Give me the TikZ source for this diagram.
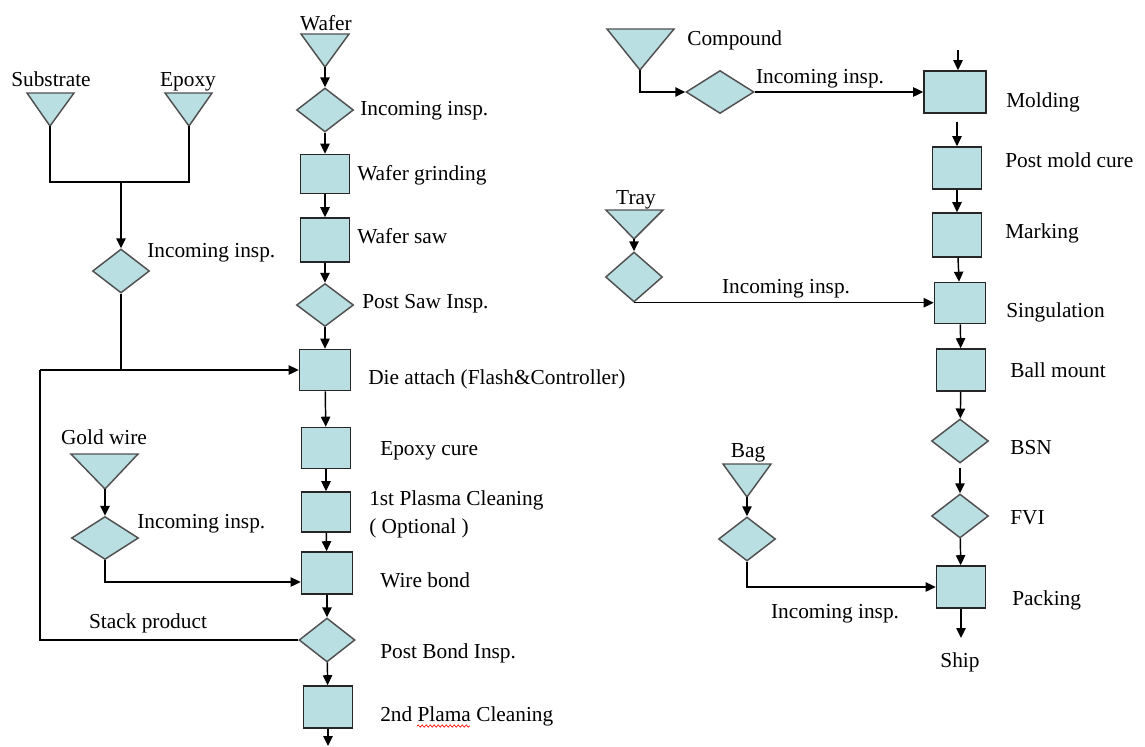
\documentclass[tikz,border=0pt]{standalone}
\usepackage{fontspec}
\setmainfont{Liberation Serif}
\usetikzlibrary{shapes.geometric,arrows.meta,calc,decorations.pathmorphing}
\definecolor{stepfill}{RGB}{185,223,226}
\definecolor{edgegray}{RGB}{80,80,80}
\begin{document}
\begin{tikzpicture}[x=0.75pt,y=-0.75pt,
  every node/.style={font=\fontsize{16}{19}\selectfont},
  stepbox/.style 2 args={rectangle, draw=black!85, fill=stepfill, line width=1.2pt,
    inner sep=0pt, minimum width=#1*0.75pt, minimum height=#2*0.75pt},
  checkbox/.style 2 args={diamond, draw=edgegray, fill=stepfill, line width=1.1pt,
    inner sep=0pt, minimum width=#1*0.75pt, minimum height=#2*0.75pt},
  tri/.style={draw=edgegray, fill=stepfill, line width=1.1pt},
  lbl/.style={inner sep=0pt, anchor=base west},
  clbl/.style={inner sep=0pt, anchor=base},
  link/.style={line width=1.1pt},
  flow/.style={line width=1.1pt, -{Triangle[length=7.5pt,width=7pt]}}]

\fill[white] (0,0) rectangle (1145,746);
\useasboundingbox (0,0) rectangle (1145,746);

% ---------- wafer line ----------
\node[clbl] (tWafer) at (326,30) {Wafer};
\draw[tri] (301,34) -- (349,34) -- (325,67) -- cycle;
\coordinate (aWafer) at (325,67);
\node[checkbox={57}{44}] (dWafer) at (325,110) {};
\node[lbl] (lWafer) at (360,115) {Incoming insp.};
\node[stepbox={49}{39}] (bGrind) at (325,174) {};
\node[lbl] (lGrind) at (357,180) {Wafer grinding};
\node[stepbox={49}{44}] (bSaw) at (325,240) {};
\node[lbl] (lSaw) at (357,243) {Wafer saw};
\node[checkbox={57}{43}] (dSaw) at (325,305) {};
\node[lbl] (lPsaw) at (362,308) {Post Saw Insp.};
\node[stepbox={51}{41}] (bDie) at (325,370) {};
\node[lbl] (lDie) at (368,384) {Die attach (Flash\&Controller)};
\node[stepbox={49}{41}] (bCure) at (326,448) {};
\node[lbl] (lCure) at (380,455) {Epoxy cure};
\node[stepbox={49}{40}] (bPl1) at (326,512) {};
\node[lbl] (lPl1a) at (369,505) {1st Plasma Cleaning};
\node[lbl] (lPl1b) at (369,533) {( Optional )};
\node[stepbox={51}{42}] (bWire) at (327,573) {};
\node[lbl] (lWire) at (380,587) {Wire bond};
\node[checkbox={56}{44}] (dBond) at (327,640) {};
\node[lbl] (lBond) at (380,658) {Post Bond Insp.};
\node[stepbox={49}{42}] (bPl2) at (328,707) {};
\node[lbl] (lPl2) at (380,721) {2nd Plama Cleaning};
\draw[red, line width=0.5pt, decorate,
  decoration={snake, segment length=3pt, amplitude=0.8pt}] (417,726) -- (470,726);
\coordinate (outLeft) at (328,746);

\draw[flow] (aWafer) -- (dWafer);
\draw[flow] (dWafer) -- (bGrind);
\draw[flow] (bGrind) -- (bSaw);
\draw[flow] (bSaw) -- (dSaw);
\draw[flow] (dSaw) -- (bDie);
\draw[flow] (bDie) -- (bCure);
\draw[flow] (bCure) -- (bPl1);
\draw[flow] (bPl1) -- (bWire);
\draw[flow] (bWire) -- (dBond);
\draw[flow] (dBond) -- (bPl2);
\draw[flow] (bPl2) -- (outLeft);

% ---------- substrate and epoxy ----------
\node[clbl] (tSub) at (51,86) {Substrate};
\draw[tri] (27,93) -- (74,93) -- (50,126) -- cycle;
\coordinate (aSub) at (50,126);
\node[clbl] (tEpo) at (188,86) {Epoxy};
\draw[tri] (165,93) -- (212,93) -- (189,126) -- cycle;
\coordinate (aEpo) at (189,126);
\coordinate (jSub) at (50,182);
\coordinate (jEpo) at (189,182);
\coordinate (jMid) at (121,182);
\node[checkbox={57}{44}] (dSub) at (121,271) {};
\node[lbl] (lSub) at (147,257) {Incoming insp.};
\draw[link] (aSub) -- (jSub) -- (jEpo) -- (aEpo);
\draw[flow] (jMid) -- (dSub);
\draw[link] (dSub.south) -- (dSub.south |- bDie.west);

% stacked product loops back to die attach
\coordinate (loopTop) at (40,370);
\node[clbl] (lStack) at (148,628) {Stack product};
\draw[link] (dBond.west) -| (loopTop);
\draw[flow] (loopTop) -- (bDie.west);

% ---------- gold wire ----------
\node[clbl] (tGold) at (104,444) {Gold wire};
\draw[tri] (71,454) -- (138,454) -- (105,489) -- cycle;
\coordinate (aGold) at (105,489);
\node[checkbox={67}{43}] (dGold) at (105,538) {};
\node[lbl] (lGold) at (137,528) {Incoming insp.};
\draw[flow] (aGold) -- (dGold);
\draw[flow] (dGold.south) |- ($(bWire.west)+(0,9)$);

% ---------- back end line ----------
\coordinate (inTop) at (958,50);
\node[stepbox={62}{42}] (mMold) at (955,92) {};
\node[lbl] (lMold) at (1006,107) {Molding};
\node[stepbox={49}{42}] (mCure) at (957,168) {};
\node[lbl] (lCureB) at (1005,167) {Post mold cure};
\node[stepbox={49}{44}] (mMark) at (957,235) {};
\node[lbl] (lMark) at (1005,238) {Marking};
\node[stepbox={51}{41}] (mSing) at (960,303) {};
\node[lbl] (lSing) at (1006,317) {Singulation};
\node[stepbox={49}{42}] (mBall) at (961,370) {};
\node[lbl] (lBall) at (1010,377) {Ball mount};
\node[checkbox={57}{44}] (mBsn) at (960,441) {};
\node[lbl] (lBsn) at (1010,454) {BSN};
\node[checkbox={57}{44}] (mFvi) at (960,516) {};
\node[lbl] (lFvi) at (1010,524) {FVI};
\node[stepbox={49}{42}] (mPack) at (961,587) {};
\node[lbl] (lPack) at (1012,605) {Packing};
\coordinate (shipEnd) at (961,638);
\node[clbl] (lShip) at (960,667) {Ship};

\draw[flow] (inTop) -- (inTop |- mMold.north);
\draw[flow, shorten <=6pt] (mMold.south -| mCure.north) -- (mCure.north);
\draw[flow] (mCure) -- (mMark);
\draw[flow] (mMark) -- (mSing);
\draw[flow] (mSing) -- (mBall);
\draw[flow] (mBall) -- (mBsn);
\draw[flow, shorten <=3pt] (mBsn) -- (mFvi);
\draw[flow] (mFvi) -- (mPack);
\draw[flow] (mPack) -- (shipEnd);

% ---------- compound ----------
\draw[tri] (607,29) -- (674,29) -- (640,70) -- cycle;
\coordinate (aComp) at (640,70);
\node[lbl] (tComp) at (687,45) {Compound};
\node[checkbox={68}{43}] (dComp) at (720,92) {};
\node[clbl] (lComp) at (820,83) {Incoming insp.};
\draw[flow] (aComp) |- (dComp.west);
\draw[flow] (dComp.east) -- (dComp.east -| mMold.west);

% ---------- tray ----------
\node[clbl] (tTray) at (636,204) {Tray};
\draw[tri] (606,210) -- (663,210) -- (634,239) -- cycle;
\coordinate (aTray) at (634,239);
\node[checkbox={57}{50}] (dTray) at (634,277) {};
\node[clbl] (lTray) at (786,293) {Incoming insp.};
\draw[flow] (aTray) -- (dTray);
\draw[flow] (dTray.south) -- (dTray.south -| mSing.west);

% ---------- bag ----------
\node[clbl] (tBag) at (748,457) {Bag};
\draw[tri] (723,464) -- (771,464) -- (747,497) -- cycle;
\coordinate (aBag) at (747,497);
\node[checkbox={57}{44}] (dBag) at (747,539) {};
\node[clbl] (lBag) at (835,618) {Incoming insp.};
\draw[flow] (aBag) -- (dBag);
\draw[flow] (dBag.south) |- (mPack.west);
\end{tikzpicture}
\end{document}
